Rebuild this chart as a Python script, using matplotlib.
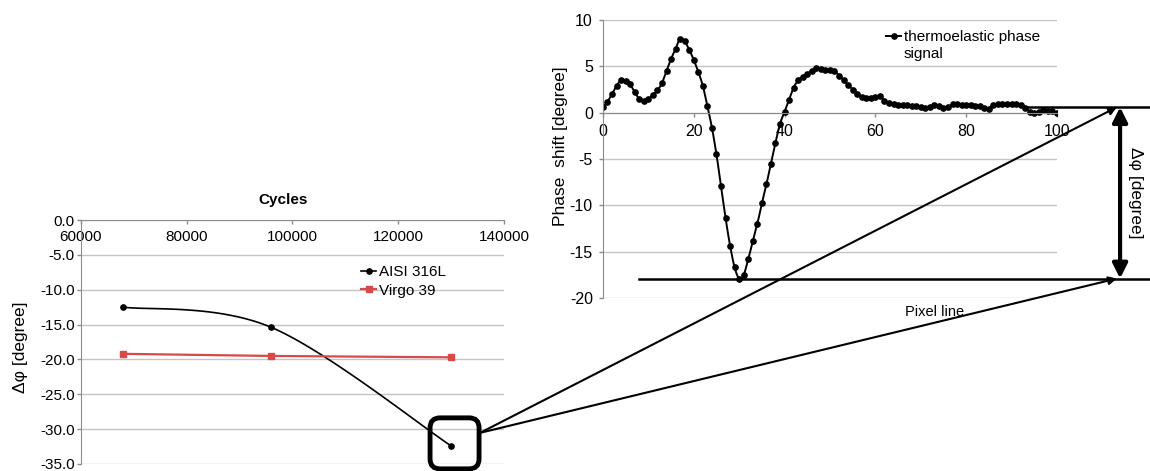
import numpy as np
import matplotlib
matplotlib.use('Agg')
import matplotlib.pyplot as plt
import matplotlib.transforms as mtransforms
from matplotlib.patches import FancyBboxPatch, ConnectionPatch
from matplotlib.lines import Line2D
from matplotlib.ticker import FormatStrFormatter

plt.rcParams['font.family'] = ['Liberation Sans', 'DejaVu Sans']
plt.rcParams['axes.unicode_minus'] = False

# left chart: phase difference vs cycles
cycles = [68000, 96000, 130000]
aisi_316l = [-12.5, -15.4, -32.4]
virgo_39 = [-19.2, -19.5, -19.7]

# right chart: thermoelastic phase signal along a pixel line
pixel = np.arange(101)
phase = [0.6, 1.2, 2.0, 2.9, 3.5, 3.45, 3.05, 2.2, 1.5, 1.25,
         1.5, 1.9, 2.4, 3.2, 4.5, 5.8, 6.9, 8.0, 7.7, 6.8,
         5.7, 4.4, 2.9, 0.7, -1.6, -4.5, -7.9, -11.35, -14.35, -16.7,
         -17.9, -17.5, -15.8, -13.9, -12.0, -9.8, -7.75, -5.5, -3.25, -1.2,
         0.1, 1.4, 2.7, 3.5, 3.9, 4.2, 4.5, 4.8, 4.75, 4.65,
         4.65, 4.5, 4.0, 3.5, 3.0, 2.5, 2.05, 1.7, 1.6, 1.6,
         1.7, 1.8, 1.3, 1.05, 0.95, 0.85, 0.85, 0.85, 0.75, 0.7,
         0.6, 0.55, 0.65, 0.8, 0.7, 0.5, 0.6, 0.9, 0.95, 0.85,
         0.8, 0.8, 0.75, 0.7, 0.55, 0.45, 0.8, 0.9, 0.9, 0.95,
         0.9, 0.9, 0.8, 0.55, 0.1, 0.0, 0.05, 0.25, 0.2, 0.15,
         -0.05]
ref_level = 0.6
min_level = min(phase)

red = '#D64A4A'
grid_c = '#C4C4C4'
axis_c = '#8C8C8C'


def smooth(x, y, n=12):
    # excel-like smoothed line (bezier through points)
    pts = np.column_stack([x, y]).astype(float)
    P = np.vstack([pts[0], pts, pts[-1]])
    t = np.linspace(0, 1, n)[:, None]
    out = []
    for i in range(len(pts) - 1):
        p0, p1, p2, p3 = P[i], P[i + 1], P[i + 2], P[i + 3]
        c1 = p1 + (p2 - p0) / 6
        c2 = p2 - (p3 - p1) / 6
        seg = (1 - t)**3 * p1 + 3 * (1 - t)**2 * t * c1 + 3 * (1 - t) * t**2 * c2 + t**3 * p2
        out.append(seg if i == 0 else seg[1:])
    out = np.vstack(out)
    return out[:, 0], out[:, 1]


fig = plt.figure(figsize=(11.5, 4.71), dpi=100)
ax1 = fig.add_axes([0.0704, 0.0149, 0.3678, 0.518])
ax2 = fig.add_axes([0.5243, 0.3673, 0.3948, 0.5902])

for ax in (ax1, ax2):
    ax.spines['top'].set_visible(False)
    ax.spines['right'].set_visible(False)
    ax.spines['left'].set_color(axis_c)
    ax.spines['bottom'].set_color(axis_c)
    ax.spines['bottom'].set_position(('data', 0))
    ax.yaxis.grid(True, color=grid_c, lw=1)
    ax.set_axisbelow(True)
    ax.tick_params(colors=axis_c, labelcolor='black', length=3, width=1)

# left chart
ax1.set_xlim(60000, 140000)
ax1.set_ylim(-35, 0)
ax1.set_xticks(range(60000, 140001, 20000))
ax1.set_yticks(np.arange(-35, 0.1, 5))
ax1.yaxis.set_major_formatter(FormatStrFormatter('%.1f'))
ax1.tick_params(axis='x', labelsize=11, pad=4)
ax1.tick_params(axis='y', labelsize=11, pad=1.5)

sx, sy = smooth(cycles, aisi_316l, 40)
ax1.plot(sx, sy, color='k', lw=1.2)
ax1.plot(cycles, aisi_316l, 'o', color='k', ms=3.8)
ax1.plot(cycles, virgo_39, color=red, lw=1.6)
ax1.plot(cycles, virgo_39, 's', color=red, ms=4.2)

h1 = Line2D([], [], color='k', lw=1.2, marker='o', ms=3.8, label='AISI 316L')
h2 = Line2D([], [], color=red, lw=1.6, marker='s', ms=4.2, label='Virgo 39')
ax1.legend(handles=[h1, h2], loc='upper left', bbox_to_anchor=(361 / 1150, 1 - 265 / 471),
           bbox_transform=fig.transFigure, frameon=False, fontsize=11, handlelength=1.0,
           handletextpad=0.15, labelspacing=0.3, borderpad=0, borderaxespad=0)

fig.text(283 / 1150, 1 - 200 / 471, 'Cycles', fontsize=11, fontweight='bold', ha='center', va='center')
fig.text(21 / 1150, 1 - 347 / 471, 'Δφ [degree]', fontsize=12.5, rotation=90, ha='center', va='center')

# right chart
ax2.set_xlim(0, 100)
ax2.set_ylim(-20, 10)
ax2.set_xticks(range(0, 101, 20))
ax2.set_yticks(range(-20, 11, 5))
ax2.tick_params(axis='x', labelsize=11.5, pad=5.5)
ax2.tick_params(axis='y', labelsize=11.5, pad=4.3)

px, py = smooth(pixel, phase, 8)
ax2.plot(px, py, color='k', lw=1.4)
ax2.plot(pixel, phase, 'o', color='k', ms=3.8)

h3 = Line2D([], [], color='k', lw=1.4, marker='o', ms=3.8, label='thermoelastic phase')
leg2 = ax2.legend(handles=[h3], loc='upper left', bbox_to_anchor=(886 / 1150, 1 - 30 / 471),
                  bbox_transform=fig.transFigure, frameon=False, fontsize=11, handlelength=1.0,
                  handletextpad=0.15, borderpad=0, borderaxespad=0)
# second line of the legend label, under the first one
fig.canvas.draw()
tb = leg2.get_texts()[0].get_window_extent()
fig.text(tb.x0 / 1150, (tb.y0 - 18) / 471 + 0.002, 'signal', fontsize=11, ha='left', va='bottom')

fig.text(560 / 1150, 1 - 146 / 471, 'Phase  shift [degree]', fontsize=12.5, rotation=90, ha='center', va='center')

# delta-phi markup
ax2.plot([93.4, 122], [ref_level, ref_level], color='k', lw=1.8, clip_on=False)
ax2.plot([7.9, 122], [min_level, min_level], color='k', lw=1.8, clip_on=False)
ax2.annotate('', xy=(113.9, ref_level), xytext=(113.9, min_level),
             arrowprops=dict(arrowstyle='<|-|>', lw=3, color='k', mutation_scale=22,
                             shrinkA=0, shrinkB=0), annotation_clip=False)
ax2.text(117.2, (ref_level + min_level) / 2, 'Δφ [degree]', fontsize=12.5, rotation=270,
         ha='center', va='center')
ax2.text(73.1, -21.5, 'Pixel line', fontsize=10.5, ha='center', va='center')

# zoom box on last AISI point and connecting lines
trans_box = fig.dpi_scale_trans + mtransforms.ScaledTranslation(cycles[-1], aisi_316l[-1], ax1.transData)
box = FancyBboxPatch((-0.21, -0.23), 0.49, 0.51, boxstyle='round,pad=0,rounding_size=0.1',
                     transform=trans_box, fc='none', ec='k', lw=3.5, clip_on=False)
fig.add_artist(box)
for y_end in (ref_level, min_level):
    con = ConnectionPatch(xyA=(0.29, 0.13), coordsA=trans_box, xyB=(113.2, y_end),
                          coordsB=ax2.transData, arrowstyle='-|>', mutation_scale=12,
                          lw=1.5, color='k')
    fig.add_artist(con)

fig.savefig('out.png', dpi=100)
